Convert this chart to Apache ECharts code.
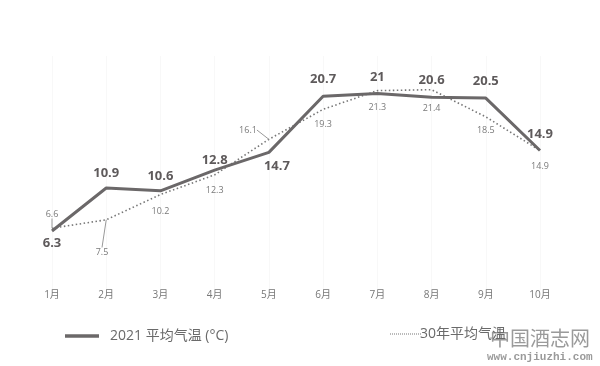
<!DOCTYPE html>
<html><head><meta charset="utf-8">
<script src="https://cdn.jsdelivr.net/npm/echarts@6/dist/echarts.min.js"></script>
<style>html,body{margin:0;padding:0;background:#fff}#c{width:600px;height:366px}</style>
</head><body><div id="c"></div>
<script>
var months = ['1月','2月','3月','4月','5月','6月','7月','8月','9月','10月'];
var temp2021 = [6.3, 10.9, 10.6, 12.8, 14.7, 20.7, 21, 20.6, 20.5, 14.9];
var temp30yr = [6.6, 7.5, 10.2, 12.3, 16.1, 19.3, 21.3, 21.4, 18.5, 14.9];
var name2021 = '2021 平均气温 (°C)';
var name30 = '30年平均气温';

var chart = echarts.init(document.getElementById('c'));
var font = '"Open Sans", "Noto Sans CJK SC", sans-serif';
var dotIcon = 'path://M0,0h2v2h-2zM4,0h2v2h-2zM8,0h2v2h-2zM12,0h2v2h-2zM16,0h2v2h-2zM20,0h2v2h-2zM24,0h2v2h-2zM28,0h2v2h-2zM32,0h2v2h-2zM36,0h2v2h-2zM40,0h2v2h-2zM44,0h2v2h-2zM48,0h2v2h-2zM52,0h2v2h-2zM56,0h2v2h-2zM60,0h2v2h-2z';
var leaderIdx = [0, 1, 4];
var dotDist = [6, 6, 12, 11, 6, 11, 12, 14, 9, 11];
var dotData = temp30yr.map(function(v, i){
  return {value: v, label: {distance: dotDist[i]}, labelLine: {show: leaderIdx.indexOf(i) >= 0}};
});
chart.setOption({
  animation: false,
  textStyle: {fontFamily: font},
  grid: {left: 52, right: 60, top: 56, bottom: 76},
  legend: [
    {data: [{name: name2021, icon: 'rect'}], left: 60, top: 324, itemWidth: 34, itemHeight: 3.5, itemGap: 10,
     textStyle: {fontSize: 14, color: '#6a6a6a', fontFamily: font, padding: [0,0,0,6]}},
    {data: [{name: name30, icon: dotIcon}], left: 385, top: 322, itemWidth: 31, itemHeight: 1.2, itemGap: 0,
     textStyle: {fontSize: 14, color: '#6a6a6a', fontFamily: font, padding: [0,0,0,-6]}}
  ],
  xAxis: {
    type: 'category', data: months, boundaryGap: false,
    axisLine: {show: false}, axisTick: {show: false},
    splitLine: {show: true, lineStyle: {color: '#f8f8f8', width: 1}},
    axisLabel: {color: '#777', fontSize: 10, margin: 0, fontFamily: font}
  },
  yAxis: {type: 'value', min: 0, max: 25, show: false},
  series: [
    {
      name: name30, type: 'line', data: dotData, symbol: 'circle', symbolSize: 0.01, z: 1,
      lineStyle: {color: '#777', width: 1.6, type: [1.5, 2.5]},
      itemStyle: {color: '#777'},
      label: {show: true, fontSize: 9, color: '#7a7a7a',
        formatter: function(p){return p.value;},
        position: 'bottom'},
      labelLine: {show: false, lineStyle: {color: '#999', width: 1}},
      labelLayout: function(p){
        var i = p.dataIndex;
        if (i === 0) return {x: 52, y: 214, align: 'center', verticalAlign: 'middle'};
        if (i === 1) return {x: 102, y: 252, align: 'center', verticalAlign: 'middle'};
        if (i === 4) return {x: 248, y: 130, align: 'center', verticalAlign: 'middle'};
        return {};
      }
    },
    {
      name: name2021, type: 'line', data: temp2021, symbol: 'circle', symbolSize: 0.01, z: 2,
      lineStyle: {color: '#6b6869', width: 3},
      itemStyle: {color: '#6b6869'},
      label: {show: true, fontSize: 13, fontWeight: 'bold', color: '#5e5a5b', distance: 6,
        formatter: function(p){return p.value;},
        position: 'top'},
      labelLayout: function(p){
        var i = p.dataIndex;
        if (i === 0) return {dy: 25};
        if (i === 4) return {dx: 8, dy: 26};
        if (i === 3) return {dy: 3};
        if (i === 1 || i === 2) return {dy: -2};
        if (i >= 5) return {dy: -4};
        return {};
      }
    }
  ],
  graphic: [
    {type: 'text', left: 490, top: 328, style: {text: '中国酒志网', fontSize: 20, fill: '#888', fontFamily: '"Noto Sans CJK SC", serif', opacity: 0.85}},
    {type: 'text', left: 487, top: 352, style: {text: 'www.cnjiuzhi.com', fontSize: 11, fontWeight: 'bold', fill: '#888', fontFamily: '"Liberation Mono", monospace', opacity: 0.85}}
  ]
});
</script></body></html>
